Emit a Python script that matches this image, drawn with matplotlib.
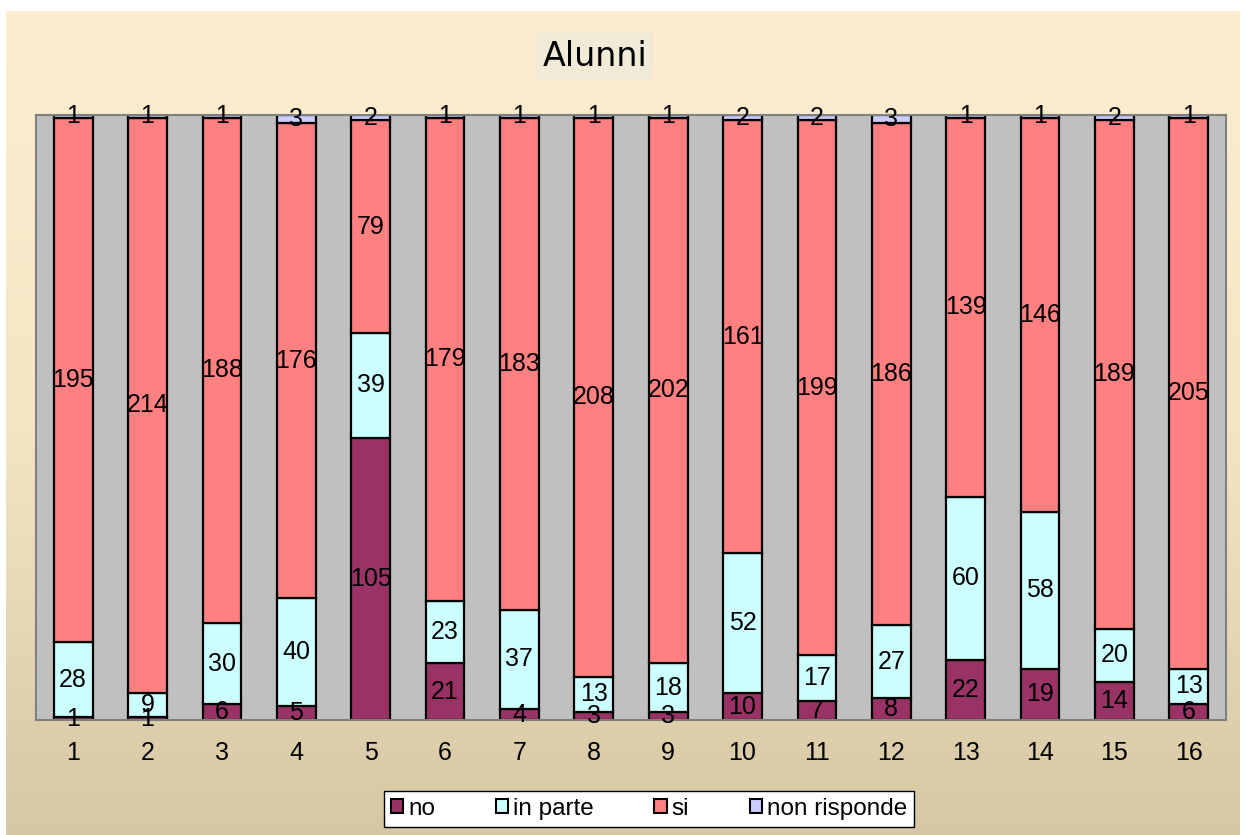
import numpy as np
import matplotlib.pyplot as plt
from matplotlib.colors import LinearSegmentedColormap
from matplotlib.patches import Patch

plt.rcParams['font.family'] = ['Liberation Sans', 'DejaVu Sans']

# data (counts per question)
questions = [str(i) for i in range(1, 17)]
no = [1, 1, 6, 5, 105, 21, 4, 3, 3, 10, 7, 8, 22, 19, 14, 6]
in_parte = [28, 9, 30, 40, 39, 23, 37, 13, 18, 52, 17, 27, 60, 58, 20, 13]
si = [195, 214, 188, 176, 79, 179, 183, 208, 202, 161, 199, 186, 139, 146, 189, 205]
non_risponde = [1, 1, 1, 3, 2, 1, 1, 1, 1, 2, 2, 3, 1, 1, 2, 1]

series = [no, in_parte, si, non_risponde]
names = ['no', 'in parte', 'si', 'non risponde']
colors = ['#993366', '#ccffff', '#ff8080', '#ccccff']

fig = plt.figure(figsize=(12.45, 8.35), dpi=100)

# gradient background of the chart area
bg = fig.add_axes([6 / 1245, 0, 1 - 11 / 1245, 1 - 11 / 835])
grad = LinearSegmentedColormap.from_list('bg', ['#fdeed1', '#f5e5c4', '#d6c8a4'])
bg.imshow(np.linspace(0, 1, 256).reshape(-1, 1), aspect='auto', cmap=grad,
          extent=[0, 1, 0, 1])
bg.set_axis_off()

ax = fig.add_axes([36 / 1245, 1 - 720 / 835, 1190 / 1245, 605 / 835])
ax.set_facecolor('#c0c0c0')

# 100% stacked bars, labels show the raw counts
data = np.array(series, dtype=float)
pct = data / data.sum(axis=0)
x = np.arange(len(questions))
bottom = np.zeros(len(questions))
for vals, frac, col in zip(series, pct, colors):
    ax.bar(x, frac, 0.52, bottom=bottom, color=col, edgecolor='black', linewidth=1.6)
    for xi, b, f, v in zip(x, bottom, frac, vals):
        ax.text(xi, b + f / 2, str(v), ha='center', va='center', fontsize=18)
    bottom += frac

ax.set_xlim(-0.5, len(questions) - 0.5)
ax.set_ylim(0, 1)
ax.set_yticks([])
ax.set_xticks(x)
ax.set_xticklabels(questions, fontsize=18)
ax.tick_params(axis='x', length=0, pad=15)
for s in ax.spines.values():
    s.set_color('#808080')
    s.set_linewidth(1.5)

fig.text(595 / 1245, 1 - 56 / 835, 'Alunni', ha='center', va='center', fontsize=24,
         family='DejaVu Sans',
         bbox=dict(facecolor='#f1ead6', edgecolor='none', pad=5))

handles = [Patch(facecolor=c, edgecolor='black', linewidth=1.5) for c in colors]
leg = fig.legend(handles, names, loc='center', bbox_to_anchor=(649 / 1245, 1 - 809 / 835),
                 ncol=4, fontsize=17.5, frameon=True, fancybox=False,
                 handlelength=0.5, handleheight=0.5, handletextpad=0.2,
                 columnspacing=2.5, borderpad=0.3, borderaxespad=0)
leg.get_frame().set_edgecolor('black')
leg.get_frame().set_facecolor('white')
leg.get_frame().set_alpha(1)
leg.get_frame().set_linewidth(1.0)

fig.savefig('out.png', dpi=100)
